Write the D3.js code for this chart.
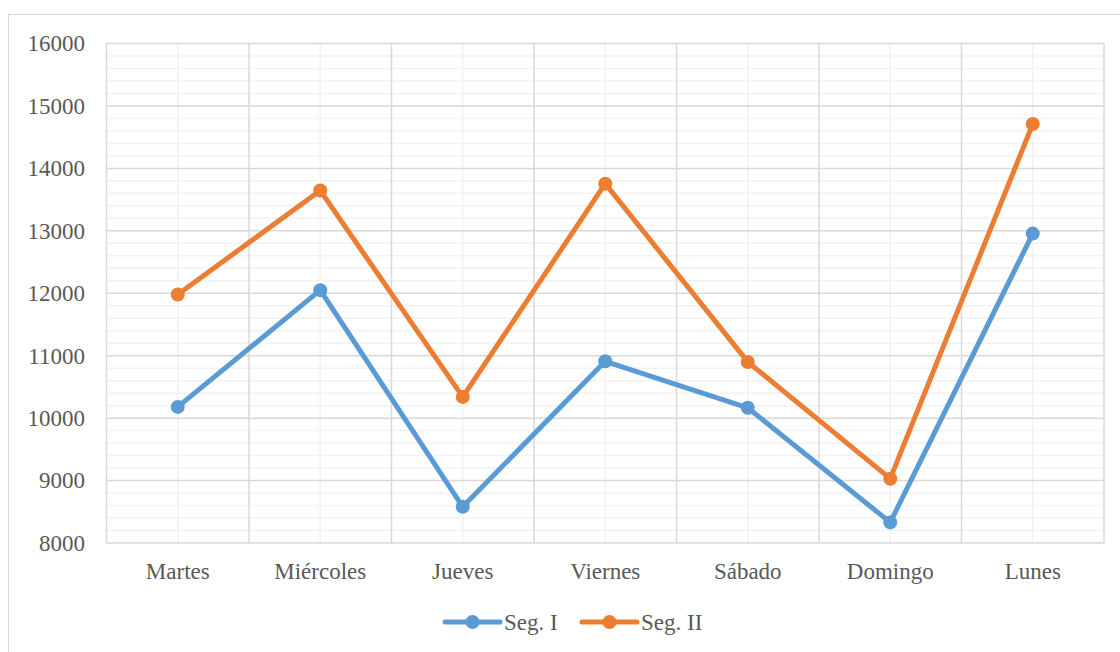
<!DOCTYPE html>
<html>
<head>
<meta charset="utf-8">
<script src="https://cdn.jsdelivr.net/npm/d3@7"></script>
<style>
  html, body { margin: 0; padding: 0; background: #fff; }
  svg { display: block; }
  text { font-family: "Liberation Serif", "Times New Roman", serif; fill: #595959; }
</style>
</head>
<body>
<svg id="chart" width="1120" height="652"></svg>
<script>
// Days of the week on the x axis
const days = ["Martes", "Miércoles", "Jueves", "Viernes", "Sábado", "Domingo", "Lunes"];
// Series values
const segI  = [10180, 12050, 8580, 10910, 10165, 8330, 12955];
const segII = [11980, 13645, 10340, 13755, 10900, 9030, 14710];
const seriesNames = ["Seg. I", "Seg. II"];
const seriesColors = ["#5b9bd5", "#ed7d31"];
// Value axis
const yTicks = [8000, 9000, 10000, 11000, 12000, 13000, 14000, 15000, 16000];

const svg = d3.select("#chart");
const W = 1120, H = 652;
const plot = { left: 106.5, right: 1104, top: 43.5, bottom: 543 };

// Outer chart frame
svg.append("rect")
  .attr("x", 8.5).attr("y", 14.5)
  .attr("width", W + 10).attr("height", H + 10)
  .attr("fill", "#fff").attr("stroke", "#d9d9d9").attr("stroke-width", 1);

const x = d3.scaleBand().domain(days).range([plot.left, plot.right]).padding(0);
const y = d3.scaleLinear().domain([8000, 16000]).range([plot.bottom, plot.top]);

const g = svg.append("g");

// Minor horizontal gridlines every 200
const minorY = d3.range(8200, 16000, 200).filter(v => v % 1000 !== 0);
g.selectAll("line.minorY").data(minorY).enter().append("line")
  .attr("x1", plot.left).attr("x2", plot.right)
  .attr("y1", d => y(d)).attr("y2", d => y(d))
  .attr("stroke", "#f2f2f2").attr("stroke-width", 1.5);

// Minor vertical gridlines at category centres
g.selectAll("line.minorX").data(days).enter().append("line")
  .attr("x1", d => x(d) + x.bandwidth() / 2).attr("x2", d => x(d) + x.bandwidth() / 2)
  .attr("y1", plot.top).attr("y2", plot.bottom)
  .attr("stroke", "#f2f2f2").attr("stroke-width", 1.5);

// Major horizontal gridlines
g.selectAll("line.majorY").data(yTicks).enter().append("line")
  .attr("x1", plot.left).attr("x2", plot.right)
  .attr("y1", d => y(d)).attr("y2", d => y(d))
  .attr("stroke", "#d9d9d9").attr("stroke-width", 1.5);

// Major vertical gridlines at category boundaries
const bounds = days.map(d => x(d)).concat([plot.right]);
g.selectAll("line.majorX").data(bounds).enter().append("line")
  .attr("x1", d => d).attr("x2", d => d)
  .attr("y1", plot.top).attr("y2", plot.bottom)
  .attr("stroke", "#d9d9d9").attr("stroke-width", 1.5);

// Y axis labels
const yAxis = d3.axisLeft(y).tickValues(yTicks).tickSize(0).tickPadding(0).tickFormat(d3.format("d"));
const ya = svg.append("g").attr("transform", `translate(85,0)`).call(yAxis);
ya.select(".domain").remove();
ya.selectAll("text").attr("font-size", 23).attr("fill", "#595959")
  .attr("font-family", '"Liberation Serif", "Times New Roman", serif');

// X axis labels
const xAxis = d3.axisBottom(x).tickSize(0).tickPadding(0);
const xa = svg.append("g").attr("transform", `translate(0,${plot.bottom + 20})`).call(xAxis);
xa.select(".domain").remove();
xa.selectAll("text").attr("font-size", 23).attr("fill", "#595959")
  .attr("font-family", '"Liberation Serif", "Times New Roman", serif');

// Series lines and markers
const series = [segI, segII];
const line = d3.line()
  .x((d, i) => x(days[i]) + x.bandwidth() / 2)
  .y(d => y(d));

series.forEach((vals, si) => {
  const sg = svg.append("g");
  sg.append("path").datum(vals)
    .attr("d", line)
    .attr("fill", "none")
    .attr("stroke", seriesColors[si])
    .attr("stroke-width", 5)
    .attr("stroke-linejoin", "round")
    .attr("stroke-linecap", "round");
  sg.selectAll("circle").data(vals).enter().append("circle")
    .attr("cx", (d, i) => x(days[i]) + x.bandwidth() / 2)
    .attr("cy", d => y(d))
    .attr("r", 7)
    .attr("fill", seriesColors[si]);
});

// Legend
const legendY = 622;
const legendItems = [
  { name: seriesNames[0], color: seriesColors[0], x0: 445, tx: 504 },
  { name: seriesNames[1], color: seriesColors[1], x0: 582, tx: 641 }
];
legendItems.forEach(it => {
  const lg = svg.append("g");
  lg.append("line")
    .attr("x1", it.x0).attr("x2", it.x0 + 55)
    .attr("y1", legendY).attr("y2", legendY)
    .attr("stroke", it.color).attr("stroke-width", 5).attr("stroke-linecap", "round");
  lg.append("circle").attr("cx", it.x0 + 27.5).attr("cy", legendY).attr("r", 7).attr("fill", it.color);
  lg.append("text").attr("x", it.tx).attr("y", 630)
    .attr("font-size", 23).text(it.name);
});
</script>
</body>
</html>
